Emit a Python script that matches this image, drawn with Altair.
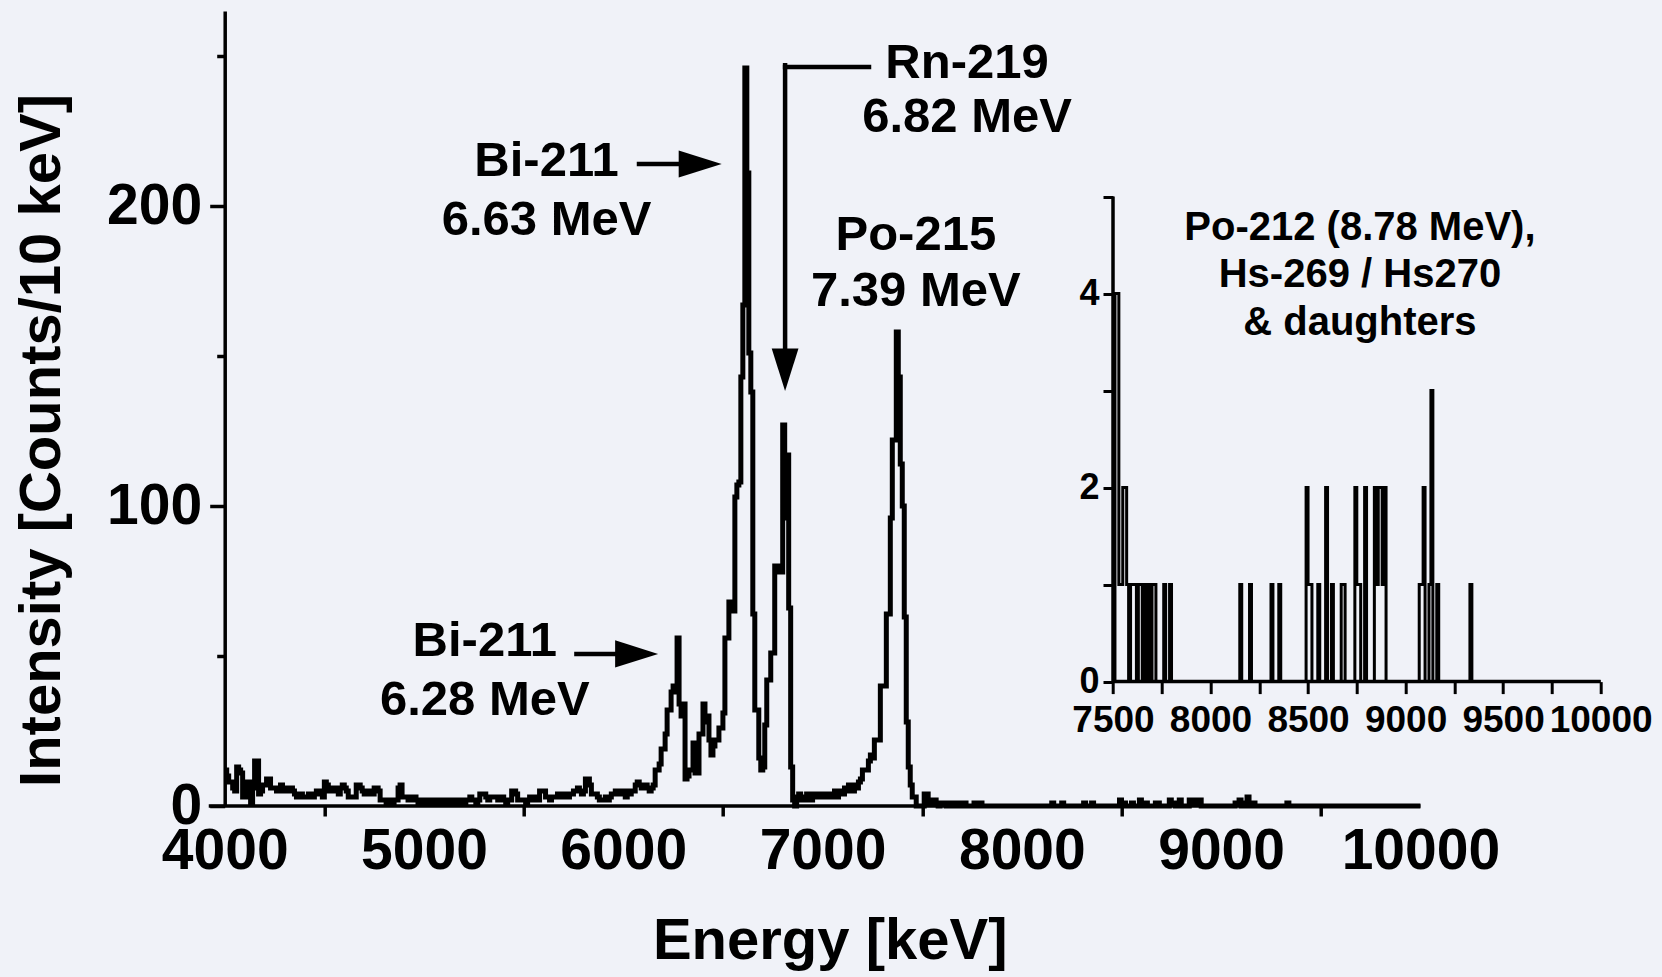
import altair as alt
import pandas as pd

# ---------------- data (10 keV bins, counts) ----------------
BIN = 10
low_start = 4000
counts_4000_5990 = [
    12, 10, 8, 8, 6,   5, 13, 12, 11, 3,   3, 8, 8, 1, 6,   15, 15, 4, 5, 7,
    7, 9, 9, 6, 6,     6, 5, 6, 7, 5,      6, 6, 5, 6, 5,   4, 3, 3, 4, 3,
    3, 3, 4, 3, 3,     4, 5, 4, 5, 3,      8, 7, 5, 6, 5,   5, 6, 4, 6, 7,
    6, 5, 3, 3, 3,     3, 7, 7, 6, 5,      4, 5, 4, 5, 4,   6, 6, 5, 2, 2,
    2, 1, 2, 2, 1,     2, 2, 6, 7, 3,      3, 3, 2, 3, 2,   3, 2, 1, 2, 1,
    2, 1, 2, 2, 1,     1, 2, 1, 2, 2,      1, 2, 1, 1, 2,   2, 1, 2, 2, 1,
    1, 2, 2, 3, 2,     2, 1, 2, 4, 4,      4, 3, 2, 3, 3,   3, 3, 2, 2, 3,
    2, 1, 2, 2, 5,     5, 4, 2, 2, 2,      2, 1, 2, 3, 2,   2, 3, 2, 5, 5,
    5, 3, 3, 2, 3,     3, 3, 4, 4, 3,      4, 4, 3, 4, 4,   5, 5, 6, 5, 4,
    5, 9, 9, 7, 4,     4, 4, 3, 2, 2,      2, 3, 2, 3, 4,   4, 5, 4, 4, 5,
]
peak_start = 6000
counts_6000_7490 = [
    4, 3, 5, 4, 5,        5, 7, 8, 7, 6,        6, 7, 6, 5, 6,
    7, 12, 12, 14, 19,    19, 24, 32, 32, 38,   40, 38, 56, 34, 30,
    34, 9, 10, 12, 12,    21, 11, 11, 24, 24,   34, 28, 30, 22, 17,
    20, 22, 22, 26, 26,   31, 56, 56, 68, 65,   65, 103, 107, 108, 143,
    167, 246, 211, 151, 138,   64, 32, 32, 16, 12,   13, 27, 42, 42, 51,
    51, 80, 80, 78, 78,   127, 96, 117, 66, 13,  2, 0, 3, 4, 2,
    3, 2, 4, 3, 2,        4, 3, 3, 4, 3,        4, 3, 4, 4, 3,
    4, 5, 3, 4, 5,        4, 6, 5, 7, 5,        5, 7, 6, 8, 9,
    12, 12, 12, 15, 17,   16, 22, 22, 22, 40,   40, 40, 64, 64, 96,
    122, 122, 158, 143, 114,   100, 63, 28, 13, 7,   3, 3, 0, 0, 0,
]
# high-energy events (also shown in the inset), bins with non-zero counts
high_start, high_end = 7500, 10000
high_energy = [7510, 7520, 7530, 7540, 7550, 7560, 7570, 7590, 7600, 7610,
               7630, 7640, 7660, 7680, 7700, 7710, 7760, 7790, 8150, 8200,
               8310, 8350, 8490, 8500, 8510, 8550, 8590, 8620, 8670, 8680,
               8740, 8750, 8760, 8790, 8840, 8850, 8860, 8870, 8880, 8890,
               9070, 9080, 9090, 9120, 9130, 9160, 9330]
high_counts = [4, 4, 1, 1, 2, 2, 1, 1, 1, 1,
               1, 1, 1, 1, 1, 1, 1, 1, 1, 1,
               1, 1, 2, 1, 1, 1, 2, 1, 1, 1,
               2, 1, 1, 2, 2, 1, 2, 2, 1, 2,
               1, 1, 2, 1, 3, 1, 1]

# annotation texts (main panel, data coordinates)
ann_text = ["Bi-211", "6.28 MeV", "Bi-211", "6.63 MeV", "Rn-219", "6.82 MeV", "Po-215", "7.39 MeV"]
ann_E = [5305, 5305, 5615, 5615, 7725, 7725, 7468, 7468]
ann_v = [55.1, 35.3, 215.1, 195.3, 247.6, 229.6, 190.4, 171.7]

# arrows: shafts and heads
shaft_x = [5765, 6079, 6812, 6812]
shaft_x2 = [6070, 6390, 7233, 6812]
shaft_y = [50.7, 214.0, 246.3, 246.9]
shaft_y2 = [50.7, 214.0, 246.3, 146.0]
head_right_E = [6067, 6386]
head_right_v = [50.7, 214.0]
head_down_E = [6812]
head_down_v = [145.4]

# inset text
inset_text = ["Po-212 (8.78 MeV),", "Hs-269 / Hs270", "& daughters"]
inset_text_E = [8766, 8766, 8766]
inset_text_v = [4.68, 4.19, 3.70]

# ---------------- build tables ----------------
hi_map = dict(zip(high_energy, high_counts))
hi_E = list(range(high_start, high_end, BIN))
hi_c = [hi_map.get(e, 0) for e in hi_E]

main_E = ([low_start + BIN * i for i in range(len(counts_4000_5990))]
          + [peak_start + BIN * i for i in range(len(counts_6000_7490))]
          + hi_E + [high_end])
main_c = counts_4000_5990 + counts_6000_7490 + hi_c + [0]
main_df = pd.DataFrame({"E": main_E, "c": main_c})
inset_df = pd.DataFrame({"E": hi_E + [high_end], "c": hi_c + [0]})

ann_df = pd.DataFrame({"E": ann_E, "v": ann_v, "t": ann_text})
shaft_df = pd.DataFrame({"x": shaft_x, "x2": shaft_x2, "y": shaft_y, "y2": shaft_y2})
headR_df = pd.DataFrame({"E": head_right_E, "v": head_right_v})
headD_df = pd.DataFrame({"E": head_down_E, "v": head_down_v})
itext_df = pd.DataFrame({"E": inset_text_E, "v": inset_text_v, "t": inset_text})
main_axis_df = pd.DataFrame({"x": [3920], "x2": [10000], "y": [0]})
inset_xaxis_df = pd.DataFrame({"x": [7500], "x2": [10000], "y": [0]})
inset_yaxis_df = pd.DataFrame({"x": [7500], "y": [0], "y2": [5]})

FONT = "Liberation Sans"
W, H = 1395, 795

main_x = alt.Scale(domain=[4000, 11000], nice=False, zero=False)
main_y = alt.Scale(domain=[0, 265], nice=False, zero=False)
ins_x = alt.Scale(domain=[2945.5, 10097.9], nice=False, zero=False)
ins_y = alt.Scale(domain=[-1.2825, 6.9134], nice=False, zero=False)

x_axis_main = alt.Axis(
    orient="bottom", values=list(range(4000, 10001, 500)), format="d",
    labelExpr="datum.value % 1000 === 0 ? datum.label : ''",
    domain=False, grid=False, tickSize=10, tickWidth=3.5, tickColor="black",
    tickOpacity={"condition": {"test": "datum.value % 1000 === 0", "value": 0}, "value": 1},
    labelFontSize=57, labelFont=FONT, labelFontWeight="bold", labelColor="black",
    labelPadding=7, labelOverlap=False, labelFlush=False,
    title="Energy [keV]", titleFontSize=58, titleFont=FONT, titleFontWeight="bold",
    titleColor="black", titleX=605, titleY=135, titleBaseline="middle", titleAlign="center",
)
y_axis_main = alt.Axis(
    orient="left", values=list(range(0, 251, 50)), format="d",
    labelExpr="datum.value % 100 === 0 ? datum.label : ''",
    domain=True, domainWidth=3.5, domainColor="black", grid=False,
    tickSize={"condition": {"test": "datum.value % 100 !== 0", "value": 8}, "value": 15},
    tickWidth=3.5, tickColor="black",
    labelFontSize=57, labelFont=FONT, labelFontWeight="bold", labelColor="black",
    labelPadding=8, labelOverlap=False, labelFlush=False,
    title="Intensity [Counts/10 keV]", titleFontSize=58, titleFont=FONT,
    titleFontWeight="bold", titleColor="black", titleX=-182, titleY=429,
    titleBaseline="middle", titleAlign="center", titleAngle=270,
)
x_axis_ins = alt.Axis(
    orient="bottom", offset=-124.4, values=list(range(7500, 10001, 250)), format="d",
    labelExpr="datum.value % 500 === 0 ? datum.label : ''",
    domain=False, grid=False, tickSize=12, tickWidth=3, tickColor="black",
    labelFontSize=37, labelFont=FONT, labelFontWeight="bold", labelColor="black",
    labelPadding=9, labelOverlap=False, labelFlush=False, title=None,
)
y_axis_ins = alt.Axis(
    orient="left", offset=-888.3, values=[0, 1, 2, 3, 4, 5], format="d",
    labelExpr="datum.value % 2 === 0 ? datum.label : ''",
    domain=False, grid=False, tickSize=10, tickWidth=3, tickColor="black",
    labelFontSize=36, labelFont=FONT, labelFontWeight="bold", labelColor="black",
    labelPadding=4, labelOverlap=False, labelFlush=False, title=None,
)

# ---------------- main panel ----------------
main_line = alt.Chart(main_df).mark_line(
    interpolate="step-after", color="black", strokeWidth=5, strokeJoin="miter"
).encode(
    x=alt.X("E:Q", scale=main_x, axis=x_axis_main),
    y=alt.Y("c:Q", scale=main_y, axis=y_axis_main),
)
main_xline = alt.Chart(main_axis_df).mark_rule(color="black", strokeWidth=3.5).encode(
    x=alt.X("x:Q", scale=main_x, axis=None), x2="x2:Q",
    y=alt.Y("y:Q", scale=main_y, axis=None),
)
shafts = alt.Chart(shaft_df).mark_rule(color="black", strokeWidth=4.5, strokeCap="square").encode(
    x=alt.X("x:Q", scale=main_x, axis=None), x2="x2:Q",
    y=alt.Y("y:Q", scale=main_y, axis=None), y2="y2:Q",
)
heads_r = alt.Chart(headR_df).mark_point(
    shape="M -1 -0.63 L 1 0 L -1 0.63 Z", filled=True, color="black", opacity=1, size=1849
).encode(
    x=alt.X("E:Q", scale=main_x, axis=None),
    y=alt.Y("v:Q", scale=main_y, axis=None),
)
heads_d = alt.Chart(headD_df).mark_point(
    shape="M -0.63 -1 L 0 1 L 0.63 -1 Z", filled=True, color="black", opacity=1, size=1806
).encode(
    x=alt.X("E:Q", scale=main_x, axis=None),
    y=alt.Y("v:Q", scale=main_y, axis=None),
)
labels = alt.Chart(ann_df).mark_text(
    font=FONT, fontSize=49, fontWeight="bold", color="black", align="center", baseline="middle"
).encode(
    x=alt.X("E:Q", scale=main_x, axis=None),
    y=alt.Y("v:Q", scale=main_y, axis=None),
    text="t:N",
)

# ---------------- inset ----------------
ins_line = alt.Chart(inset_df).mark_line(
    interpolate="step-after", color="black", strokeWidth=3, strokeJoin="miter"
).encode(
    x=alt.X("E:Q", scale=ins_x, axis=x_axis_ins),
    y=alt.Y("c:Q", scale=ins_y, axis=y_axis_ins),
)
ins_xline = alt.Chart(inset_xaxis_df).mark_rule(color="black", strokeWidth=3.5).encode(
    x=alt.X("x:Q", scale=ins_x, axis=None), x2="x2:Q",
    y=alt.Y("y:Q", scale=ins_y, axis=None),
)
ins_yline = alt.Chart(inset_yaxis_df).mark_rule(color="black", strokeWidth=3.5).encode(
    x=alt.X("x:Q", scale=ins_x, axis=None),
    y=alt.Y("y:Q", scale=ins_y, axis=None), y2="y2:Q",
)
ins_text = alt.Chart(itext_df).mark_text(
    font=FONT, fontSize=40, fontWeight="bold", color="black", align="center", baseline="middle"
).encode(
    x=alt.X("E:Q", scale=ins_x, axis=None),
    y=alt.Y("v:Q", scale=ins_y, axis=None),
    text="t:N",
)

chart = alt.layer(
    main_line, main_xline, shafts, heads_r, heads_d, labels,
    ins_line, ins_xline, ins_yline, ins_text,
).resolve_scale(
    x="independent", y="independent"
).resolve_axis(
    x="independent", y="independent"
).properties(
    width=W, height=H,
    autosize=alt.AutoSizeParams(type="none"),
    padding={"left": 224.7, "top": 11, "right": 1662 - 224.7 - W, "bottom": 977 - 11 - H},
).configure(
    background="#F0F2F8", font=FONT
).configure_view(stroke="transparent")

chart.save("out.html", embed_options={"renderer": "svg", "actions": False})
